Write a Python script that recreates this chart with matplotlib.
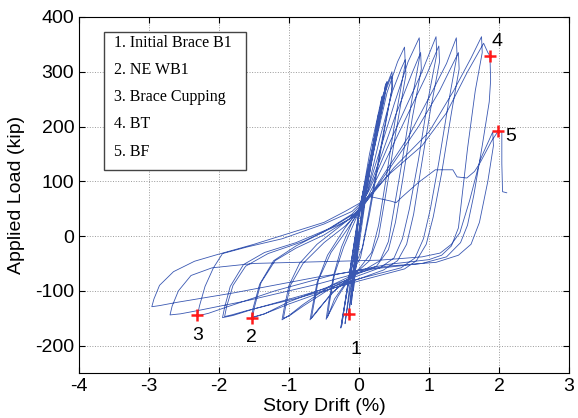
import numpy as np
import matplotlib
matplotlib.use("Agg")
import matplotlib.pyplot as plt
from matplotlib.patches import Rectangle

# ---------------- data (story drift %, applied load kip) ----------------
# small elastic cycles in the core
elastic = [(0.00, 0), (0.09, 70), (0.08, 55), (-0.05, -62), (-0.04, -48),
           (0.03, 40), (0.16, 130), (0.15, 112), (-0.01, 30), (-0.08, -100), (-0.07, -85),
           (0.04, 45), (0.22, 180), (0.20, 158), (-0.01, 35), (-0.11, -125), (-0.10, -110),
           (0.05, 50), (0.28, 225), (0.26, 200), (0.00, 40), (-0.15, -145), (-0.13, -128),
           (0.06, 55), (0.33, 255), (0.30, 230), (0.00, 45), (-0.20, -160), (-0.18, -142),
           (0.07, 60), (0.38, 278), (0.35, 250), (0.01, 50), (-0.26, -168), (-0.24, -150),
           (0.07, 60), (0.40, 282), (0.37, 255), (0.00, 48), (-0.25, -165), (-0.23, -148)]

cycle1 = [(-0.10, -40), (0.00, 40), (0.15, 150), (0.32, 250), (0.47, 300), (0.48, 275),
          (0.35, 190), (0.15, 50), (0.05, -20), (-0.10, -70), (-0.30, -110), (-0.47, -152)]
cycle1b = [(-0.44, -125), (-0.36, -70), (-0.25, -20), (-0.10, 25), (0.05, 58), (0.20, 165),
           (0.35, 255), (0.46, 292), (0.47, 268), (0.33, 170), (0.15, 40), (0.02, -40),
           (-0.15, -78), (-0.35, -115), (-0.45, -148)]
cycle2 = [(-0.42, -120), (-0.35, -70), (-0.22, -20), (-0.05, 30), (0.08, 70), (0.20, 150),
          (0.40, 262), (0.55, 318), (0.65, 345), (0.66, 315), (0.52, 215), (0.38, 100),
          (0.28, 20), (0.18, -30), (0.00, -60), (-0.35, -100), (-0.58, -133), (-0.70, -153)]
cycle2b = [(-0.67, -132), (-0.60, -85), (-0.45, -35), (-0.20, 15), (0.00, 48), (0.15, 100),
           (0.30, 180), (0.48, 265), (0.60, 305), (0.66, 322), (0.67, 295), (0.52, 185),
           (0.38, 75), (0.28, 0), (0.15, -45), (-0.05, -68), (-0.40, -105), (-0.60, -138),
           (-0.68, -150)]
cycle3 = [(-0.65, -128), (-0.58, -80), (-0.40, -30), (-0.18, 10), (-0.05, 35), (0.10, 75),
          (0.32, 165), (0.50, 240), (0.70, 318), (0.86, 362), (0.87, 330), (0.75, 245),
          (0.62, 140), (0.50, 50), (0.42, -10), (0.30, -45), (0.10, -60), (-0.40, -90),
          (-0.80, -125), (-1.00, -145), (-1.10, -153)]
cycle3b = [(-1.07, -132), (-1.00, -90), (-0.85, -50), (-0.60, -15), (-0.30, 15), (0.00, 45),
           (0.12, 80), (0.30, 140), (0.52, 220), (0.75, 295), (0.88, 335), (0.89, 305),
           (0.76, 215), (0.62, 100), (0.52, 25), (0.42, -25), (0.25, -55), (0.00, -68),
           (-0.40, -95), (-0.80, -128), (-1.00, -146), (-1.08, -150)]
cycle4 = [(-1.05, -130), (-0.98, -90), (-0.80, -50), (-0.50, -12), (-0.20, 18), (-0.05, 38),
          (0.15, 85), (0.40, 160), (0.65, 230), (0.90, 300), (1.10, 364), (1.11, 332),
          (0.98, 245), (0.85, 140), (0.72, 50), (0.62, -5), (0.50, -40), (0.30, -58),
          (-0.30, -86), (-1.00, -120), (-1.35, -142), (-1.54, -150)]
cycle4b = [(-1.51, -130), (-1.42, -88), (-1.22, -45), (-0.90, -18), (-0.50, 8), (-0.10, 40),
           (0.12, 70), (0.35, 130), (0.65, 210), (0.95, 290), (1.14, 347), (1.15, 318),
           (1.02, 230), (0.88, 120), (0.78, 40), (0.68, -15), (0.55, -45), (0.35, -62),
           (-0.30, -92), (-1.00, -124), (-1.35, -142), (-1.52, -148)]
cycle5 = [(-1.49, -128), (-1.40, -85), (-1.20, -45), (-0.90, -22), (-0.50, 2), (-0.15, 30),
          (0.10, 62), (0.35, 112), (0.70, 180), (1.05, 265), (1.25, 315), (1.39, 362),
          (1.40, 330), (1.28, 245), (1.14, 135), (1.02, 50), (0.92, -5), (0.80, -40),
          (0.60, -58), (0.00, -78), (-0.80, -108), (-1.50, -133), (-1.80, -145), (-1.95, -149)]
cycle5b = [(-1.92, -130), (-1.84, -92), (-1.65, -52), (-1.35, -30), (-0.90, -12), (-0.40, 15),
           (-0.05, 42), (0.20, 80), (0.50, 135), (0.85, 200), (1.15, 265), (1.42, 335),
           (1.43, 305), (1.32, 225), (1.18, 115), (1.06, 35), (0.96, -15), (0.82, -45),
           (0.65, -60), (0.00, -82), (-0.90, -114), (-1.60, -136), (-1.82, -144), (-1.92, -147)]
cycle6 = [(-1.89, -128), (-1.80, -90), (-1.62, -55), (-1.30, -32), (-0.80, -10), (-0.30, 20),
          (-0.08, 35), (0.15, 70), (0.50, 125), (1.00, 190), (1.35, 265), (1.60, 325),
          (1.75, 364), (1.76, 335), (1.66, 265), (1.55, 160), (1.47, 70), (1.42, 15),
          (1.32, -18), (1.18, -35), (1.00, -43), (0.40, -52), (-0.40, -72), (-1.20, -100),
          (-1.90, -130), (-2.15, -141), (-2.31, -146)]
cycle6b = [(-2.28, -128), (-2.20, -92), (-2.08, -58), (-1.95, -32), (-1.60, -20), (-1.10, -5),
           (-0.50, 22), (-0.10, 45), (0.15, 75), (0.45, 115), (0.90, 165), (1.25, 225),
           (1.55, 300), (1.78, 352), (1.84, 335), (1.87, 329), (1.88, 285), (1.86, 245),
           (1.76, 165), (1.64, 75), (1.55, 20), (1.45, -12), (1.25, -38), (0.90, -50),
           (0.20, -60), (-0.60, -88), (-1.60, -118), (-2.30, -136), (-2.55, -142), (-2.70, -144)]
cycle7 = [(-2.67, -128), (-2.58, -100), (-2.40, -72), (-2.10, -58), (-1.50, -50), (-0.60, -47),
          (0.30, -44), (0.90, -38), (1.16, -31), (1.32, -15), (1.44, 6), (1.58, 65),
          (1.73, 139), (1.91, 190), (1.92, 165), (1.84, 100), (1.72, 25), (1.60, -15),
          (1.42, -35), (1.10, -48), (0.40, -55), (-0.60, -75), (-1.80, -104), (-2.60, -121),
          (-2.85, -127), (-2.96, -129)]
final = [(-2.93, -115), (-2.85, -90), (-2.65, -65), (-2.35, -46), (-2.03, -34), (-1.50, -15),
         (-1.00, 5), (-0.50, 25), (-0.20, 45), (0.05, 63), (0.16, 72), (0.45, 64),
         (0.53, 61), (0.62, 72), (0.85, 98), (1.09, 121), (1.34, 121), (1.40, 108),
         (1.54, 106), (1.65, 118), (1.73, 134), (1.90, 175), (1.99, 192), (2.04, 190),
         (2.04, 132), (2.05, 81), (2.11, 79)]

# event markers
event_drift = [-0.14, -1.53, -2.31, 1.87, 1.99]
event_load = [-143, -149, -145, 329, 192]
event_labels = ["1", "2", "3", "4", "5"]
label_drift = [-0.04, -1.54, -2.31, 1.97, 2.16]
label_load = [-208, -185, -182, 355, 182]

legend_lines = ["1. Initial Brace B1", "2. NE WB1", "3. Brace Cupping", "4. BT", "5. BF"]

# ---------------- plot ----------------
path = elastic + cycle1 + cycle1b + cycle2 + cycle2b + cycle3 + cycle3b + cycle4 + \
    cycle4b + cycle5 + cycle5b + cycle6 + cycle6b + cycle7 + final
drift = np.array([p[0] for p in path])
load = np.array([p[1] for p in path])

plt.rcParams['font.family'] = ['Liberation Sans', 'DejaVu Sans']
plt.rcParams['axes.unicode_minus'] = False
fig = plt.figure(figsize=(5.78, 4.18), dpi=100)
ax = fig.add_axes([0.1367, 0.1077, 0.8478, 0.8517])

ax.plot(drift, load, color='#3a58b2', lw=0.6)
ax.plot(event_drift, event_load, '+', color='#ff1a1a', ms=9, mew=1.8, ls='none')
for x, y, s in zip(label_drift, label_load, event_labels):
    ax.text(x, y, s, fontsize=14, ha='center', va='center', color='black')

ax.set_xlim(-4, 3)
ax.set_ylim(-250, 400)
ax.set_xticks(range(-4, 4))
ax.set_yticks(range(-200, 401, 100))
ax.tick_params(direction='in', length=4, labelsize=14, top=True, right=True)
ax.grid(True, ls=':', color='#9a9a9a', lw=0.7)
ax.set_axisbelow(True)

ax.set_xlabel('Story Drift (%)', fontsize=14)
ax.set_ylabel('Applied Load (kip)', fontsize=14)
ax.xaxis.set_label_coords(0.5, -0.07)
ax.yaxis.set_label_coords(-0.11, 0.5)

rect = Rectangle((-3.64, 121), 2.03, 251, facecolor='white', edgecolor='#444444', lw=1.0, zorder=5)
ax.add_patch(rect)
for i, s in enumerate(legend_lines):
    ax.text(-3.5, 353 - i * 49.7, s, family=['Liberation Serif', 'DejaVu Serif'], fontsize=11.5,
            va='center', ha='left', zorder=6)

fig.savefig('out.png', dpi=100)
